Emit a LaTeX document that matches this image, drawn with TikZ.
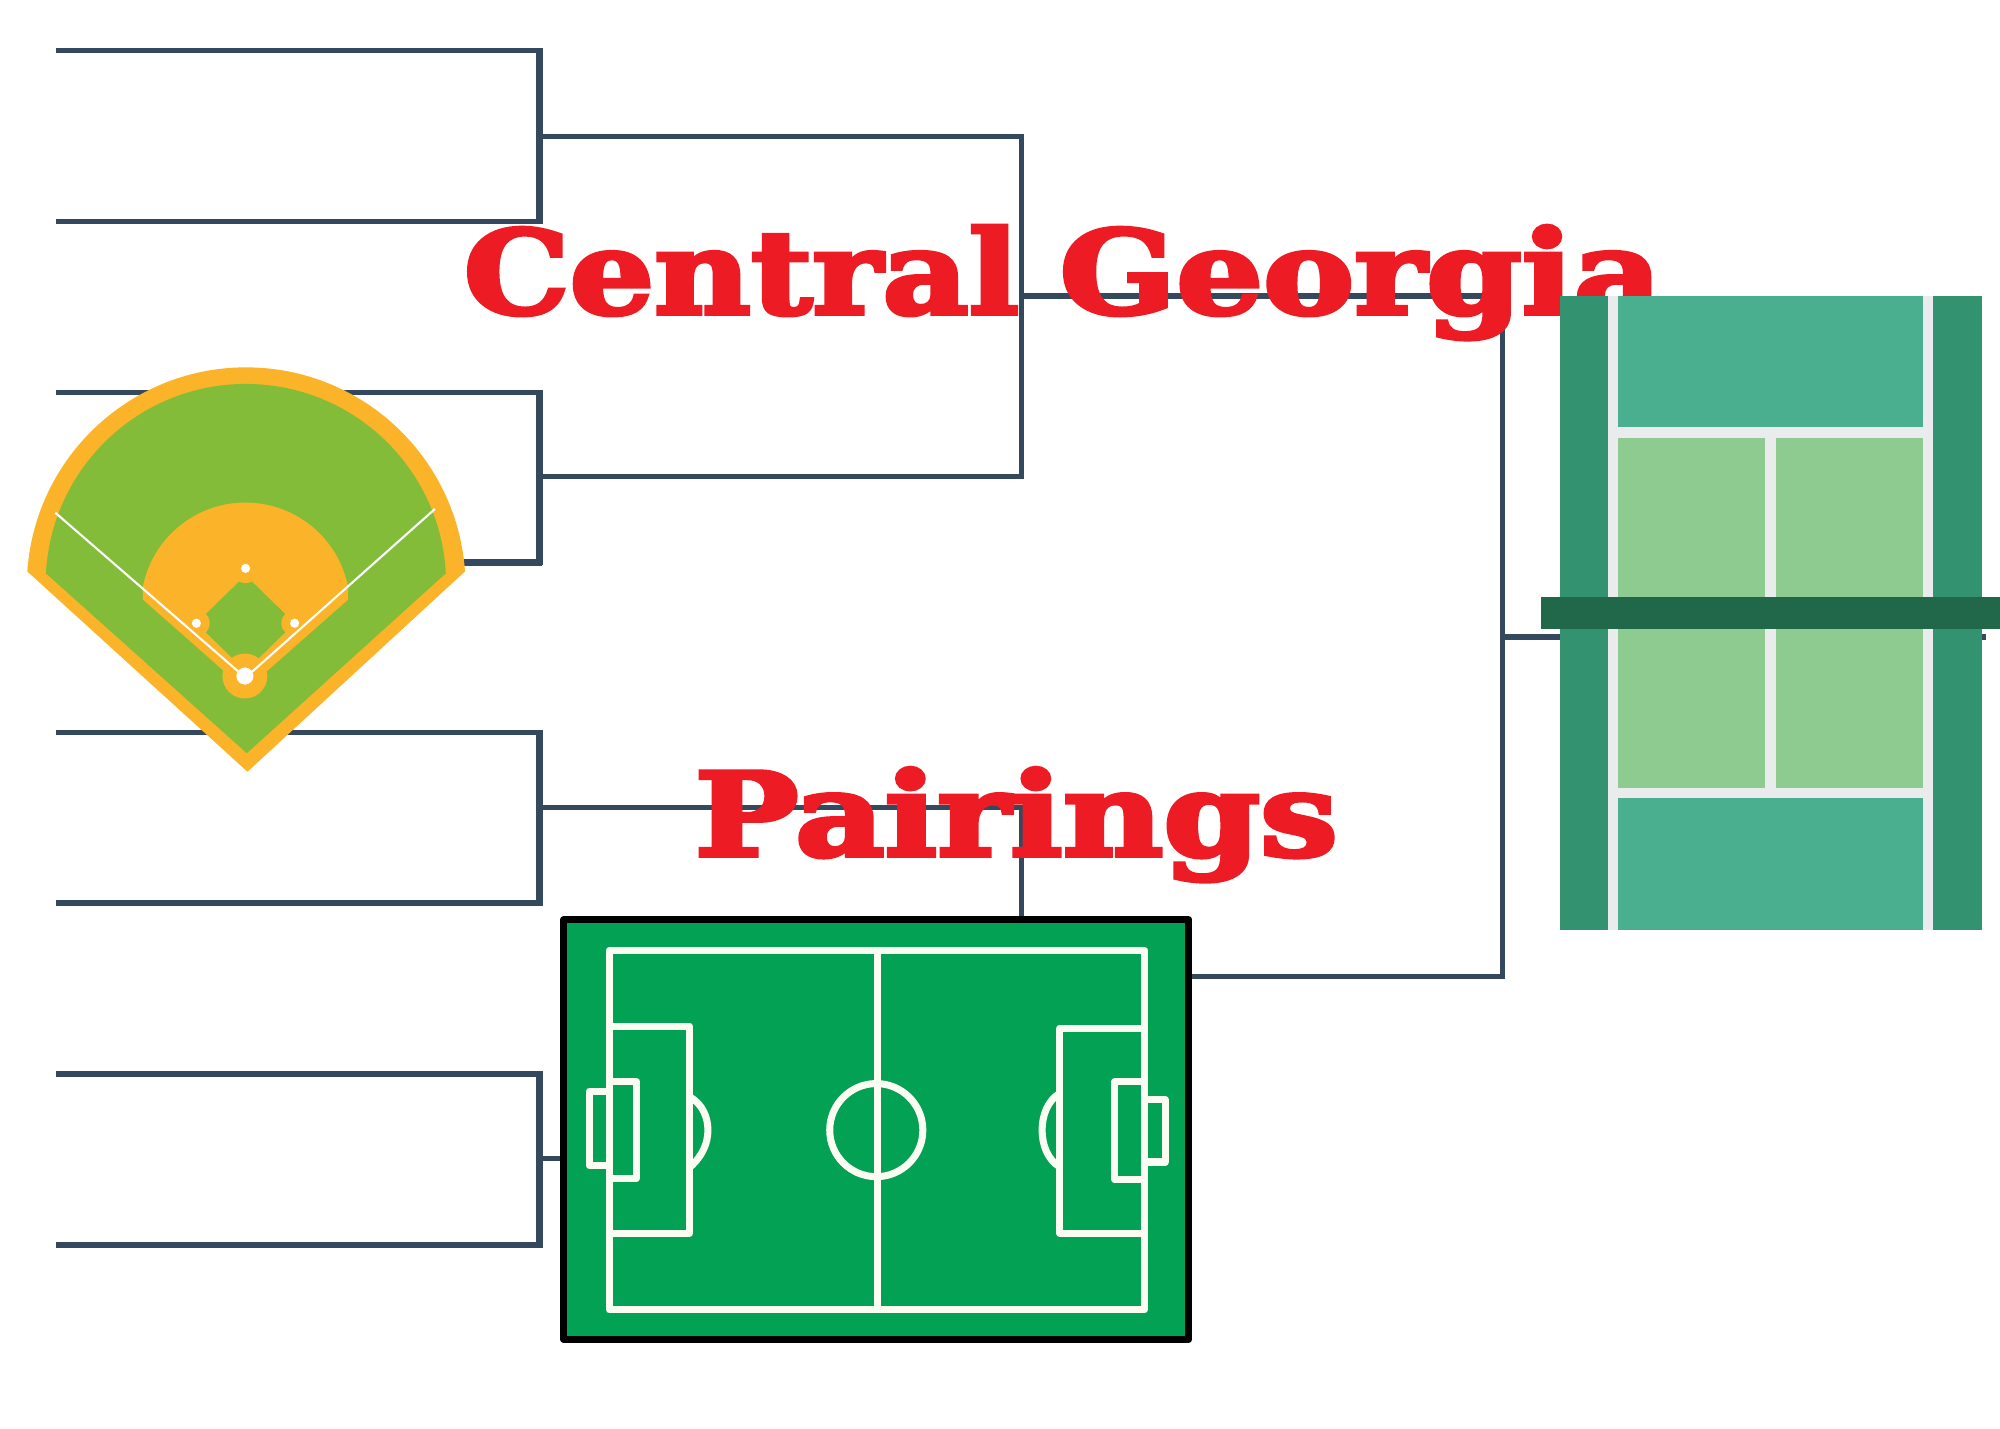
\documentclass[tikz,border=0pt]{standalone}
\usepackage{fontspec}
\newfontfamily\slabfont[FakeBold=3.5]{DejaVu Serif Bold}
\definecolor{wire}{HTML}{34495E}
\definecolor{titlered}{HTML}{ED1C24}
\definecolor{ballorange}{HTML}{FBB429}
\definecolor{ballgreen}{HTML}{82BC38}
\definecolor{pitch}{HTML}{03A153}
\definecolor{pitchline}{HTML}{FBFDF2}
\definecolor{courtdark}{HTML}{339370}
\definecolor{courtteal}{HTML}{4AAF8F}
\definecolor{courtlight}{HTML}{8DCB90}
\definecolor{courtline}{HTML}{E9EBEC}
\definecolor{courtnet}{HTML}{216749}
\tikzset{
  wiremid/.style={draw=wire,line width=1.5pt,line cap=rect},
  wirethick/.style={draw=wire,line width=2pt,line cap=rect,shorten >=0.25pt,shorten <=0.25pt},
  foul/.style={draw=white,line width=0.6pt},
  pitchmark/.style={draw=pitchline,line width=2pt,line join=round},
  titletext/.style={text=titlered,inner sep=0pt,anchor=base west,font=\slabfont\fontsize{33}{33}\selectfont}
}
\begin{document}
\begin{tikzpicture}[x=0.012755cm,y=-0.012755cm]
\useasboundingbox (0,0) rectangle (1568,1120.3);
\fill[white] (0,0) rectangle (1568,1120.3);
% bracket coordinates
\coordinate (a1) at (46,39.5); \coordinate (a2) at (423,39.5); \coordinate (a3) at (423,173.5); \coordinate (a4) at (46,173.5);
\coordinate (b1) at (46,307.5); \coordinate (b2) at (423,307.5); \coordinate (b3) at (423,441); \coordinate (b4) at (46,441);
\coordinate (c1) at (46,574); \coordinate (c2) at (423,574); \coordinate (c3) at (423,708); \coordinate (c4) at (46,708);
\coordinate (d1) at (46,842); \coordinate (d2) at (423,842); \coordinate (d3) at (423,976); \coordinate (d4) at (46,976);
\coordinate (e1) at (423,107); \coordinate (e2) at (801,107); \coordinate (e3) at (801,373.5); \coordinate (e4) at (423,373.5);
\coordinate (f1) at (423,633); \coordinate (f2) at (801,633); \coordinate (f3) at (801,908); \coordinate (f4) at (423,908);
\coordinate (g1) at (801,232); \coordinate (g2) at (1178,232); \coordinate (g3) at (1178,765.5); \coordinate (g4) at (801,765.5);
\coordinate (h1) at (1178,499.5); \coordinate (h2) at (1555,499.5);
% brackets
\draw[wiremid] (a1) -- (a2); \draw[wiremid] (a3) -- (a4); \draw[wirethick] (a2) -- (a3);
\draw[wiremid] (b1) -- (b2); \draw[wirethick] (b3) -- (b4); \draw[wirethick] (b2) -- (b3);
\draw[wiremid] (c1) -- (c2); \draw[wiremid] (c3) -- (c4); \draw[wirethick] (c2) -- (c3);
\draw[wiremid] (d1) -- (d2); \draw[wiremid] (d3) -- (d4); \draw[wirethick] (d2) -- (d3);
\draw[wiremid] (e1) -- (e2) -- (e3) -- (e4);
\draw[wiremid] (f1) -- (f2) -- (f3) -- (f4);
\draw[wiremid] (g1) -- (g2); \draw[wiremid] (g3) -- (g4); \draw[wiremid] (g2) -- (g3);
\draw[wiremid] (h1) -- (h2);
% titles
\node[titletext] (central) at (363,246) {\scalebox{1.147}[1]{Central} \scalebox{1.178}[1]{Georgia}};
\node[titletext] (pairings) at (544,671) {\scalebox{1.193}[1]{Pairings}};
% baseball diamond
\fill[ballorange] (21.4,448) arc[start angle=184,end angle=356,radius=172] -- (194,605) -- cycle;
\fill[ballgreen] (36,449.5) arc[start angle=183.1,end angle=356.9,radius=157] -- (193.5,590.5) -- cycle;
\fill[ballorange] (112,470) -- (112,460) arc[start angle=191.25,end angle=348.75,radius=82] -- (273,470) -- (205,530) -- (180,530) -- cycle;
\fill[ballgreen] (192.5,451) -- (231,488.6) -- (192.5,526) -- (154,488.6) -- cycle;
\fill[ballorange] (192,530) circle[radius=17.6];
\fill[ballorange] (192.5,445.6) circle[radius=11.5];
\fill[ballorange] (154,488.6) circle[radius=10.4];
\fill[ballorange] (231,488.6) circle[radius=10.4];
\draw[foul] (43.4,402) -- (187,526.6);
\draw[foul] (341,399) -- (197.7,526.6);
\fill[white] (192,530) circle[radius=6.7];
\fill[white] (192.5,445.6) circle[radius=3.6];
\fill[white] (154,488.6) circle[radius=3.6];
\fill[white] (231,488.6) circle[radius=3.6];
% soccer pitch
\filldraw[fill=pitch,draw=black,line width=2pt,line join=round] (442,721) rectangle (932,1050);
\draw[pitchmark] (477.6,745) rectangle (897.3,1027);
\draw[pitchmark] (687.6,745) -- (687.6,1027);
\draw[pitchmark] (687,886) circle[x radius=36.5,y radius=36.5];
\draw[pitchmark] (477.6,804.5) -- (540.6,804.5) -- (540.6,967) -- (477.6,967);
\draw[pitchmark] (477.6,848) -- (499,848) -- (499,923.6) -- (477.6,923.6);
\draw[pitchmark] (477.6,855.5) -- (462,855.5) -- (462,914) -- (477.6,914);
\draw[pitchmark] (541,860) .. controls (551,866) and (555,876) .. (555,886) .. controls (555,896) and (551,906) .. (541,915);
\draw[pitchmark] (897.3,806) -- (831,806) -- (831,967) -- (897.3,967);
\draw[pitchmark] (897.3,848) -- (874,848) -- (874,925) -- (897.3,925);
\draw[pitchmark] (897.3,862.3) -- (913.5,862.3) -- (913.5,911) -- (897.3,911);
\draw[pitchmark] (831,857) .. controls (821,863) and (817,875) .. (817,886) .. controls (817,897) and (821,909) .. (831,915);
% tennis court
\fill[courtdark] (1223,232) rectangle (1554,729);
\fill[courtline] (1260.4,232) rectangle (1515.6,729);
\fill[courtteal] (1268.5,232) rectangle (1507.7,335);
\fill[courtteal] (1268.5,626) rectangle (1507.7,729);
\fill[courtlight] (1268.5,343.5) rectangle (1384,618);
\fill[courtlight] (1392,343.5) rectangle (1507.7,618);
\fill[courtnet] (1208,468) rectangle (1568,493);
\end{tikzpicture}
\end{document}
